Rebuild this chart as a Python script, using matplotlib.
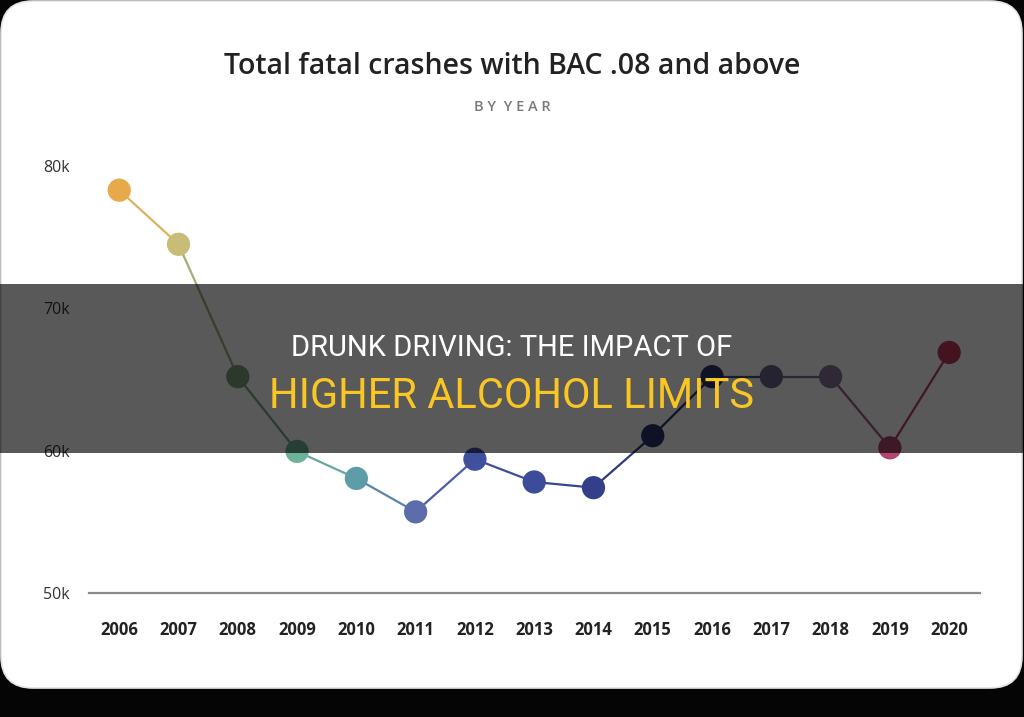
"""
fatal crashes with BAC .08+ line chart, with the dark title banner on top
"""

import matplotlib
matplotlib.use('Agg')
from matplotlib import pyplot as plt
from matplotlib import patches

# data
years = [2006, 2007, 2008, 2009, 2010, 2011, 2012, 2013, 2014,
         2015, 2016, 2017, 2018, 2019, 2020]
crashes = [78300, 74500, 65200, 59950, 58050, 55700, 59400, 57800, 57400,
           61050, 65200, 65200, 65200, 60200, 66900]
point_colors = ['#E8A94A', '#C9BC76', '#7FA07F', '#6DB39A', '#5E9DA8',
                '#5B6DAA', '#3F509C', '#3D4C98', '#333F88', '#2B3670',
                '#303866', '#6A6488', '#857598', '#B0456F', '#C03A5A']
y_ticks = [50000, 60000, 70000, 80000]
y_tick_labels = ['50k', '60k', '70k', '80k']

title = 'Total fatal crashes with BAC .08 and above'
subtitle = 'B Y  Y E A R'
banner_top = 'DRUNK DRIVING: THE IMPACT OF'
banner_bottom = 'HIGHER ALCOHOL LIMITS'

W, H = 1024, 717


def mix(c1, c2):
    a = matplotlib.colors.to_rgb(c1)
    b = matplotlib.colors.to_rgb(c2)
    return tuple((x + y) / 2 for x, y in zip(a, b))


fig = plt.figure(figsize=(W / 100, H / 100), dpi=100)
fig.patch.set_facecolor('#050505')

# background card, in pixel coords
bg = fig.add_axes([0, 0, 1, 1], zorder=0)
bg.set_xlim(0, W)
bg.set_ylim(H, 0)
bg.axis('off')
card = patches.FancyBboxPatch((1, 1), W - 3, 687,
                              boxstyle='round,pad=0,rounding_size=32',
                              facecolor='white', edgecolor='#e4e4e4', lw=1.2)
bg.add_patch(card)
bg.text(W / 2, 66, title, ha='center', va='center', fontsize=20.5,
        family='Open Sans', fontweight='semibold', color='#222222')
bg.text(W / 2, 107, subtitle, ha='center', va='center', fontsize=10.5,
        family='Open Sans', fontweight='semibold', color='#7a7a7a')

# the chart
ax = fig.add_axes([89 / W, (H - 593) / H, (980 - 89) / W, (593 - 166) / H],
                  zorder=1)
ax.patch.set_alpha(0)
ax.set_xlim(2005.49, 2020.52)
ax.set_ylim(50000, 80000)

for i in range(len(years) - 1):
    ax.plot(years[i:i + 2], crashes[i:i + 2],
            color=mix(point_colors[i], point_colors[i + 1]),
            lw=1.6, zorder=2, clip_on=False)
ax.scatter(years, crashes, s=280, c=point_colors, zorder=3, clip_on=False,
           linewidths=0)

for side in ['top', 'right', 'left']:
    ax.spines[side].set_visible(False)
ax.spines['bottom'].set_color('#8a8a8a')
ax.spines['bottom'].set_linewidth(1.6)

ax.set_xticks(years)
ax.set_xticklabels([str(y) for y in years], family='Open Sans',
                   fontweight='bold', fontsize=12, color='#222222')
ax.set_yticks(y_ticks)
ax.set_yticklabels(y_tick_labels, family='Open Sans', fontsize=11.5,
                   color='#333333', ha='left')
ax.tick_params(axis='x', length=0, pad=20)
ax.tick_params(axis='y', length=0, pad=33)

# dark banner over the middle
ov = fig.add_axes([0, 0, 1, 1], zorder=5)
ov.set_xlim(0, W)
ov.set_ylim(H, 0)
ov.axis('off')
ov.add_patch(patches.Rectangle((0, 284), W, 169, facecolor='black',
                               alpha=0.65, lw=0))
ov.text(W / 2, 348, banner_top, ha='center', va='center', fontsize=21,
        family='Roboto', color='white')
ov.text(W / 2, 397, banner_bottom, ha='center', va='center', fontsize=30,
        family='Roboto', color='#F9C623')

plt.savefig('out.png', dpi=100, facecolor=fig.get_facecolor())
